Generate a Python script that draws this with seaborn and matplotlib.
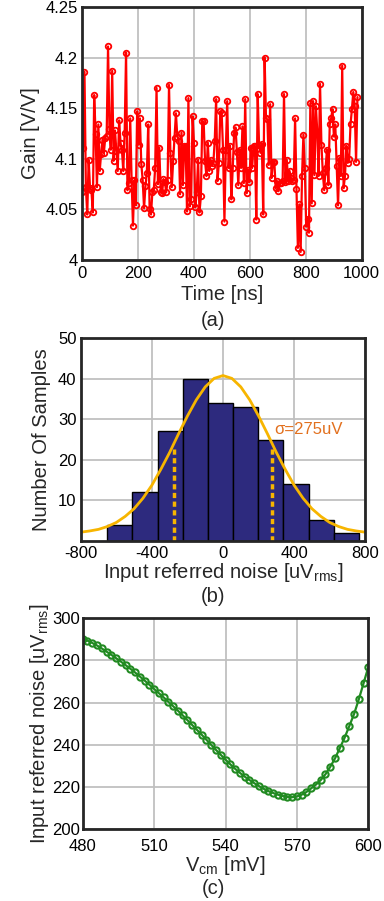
import numpy as np
import pandas as pd
import seaborn as sns
from matplotlib import pyplot as plt

# (a) gain vs time
gain = [4.067, 4.111, 4.186, 4.072, 4.045, 4.099, 4.071, 4.069, 4.047, 4.163,
        4.125, 4.072, 4.134, 4.088, 4.105, 4.119, 4.106, 4.121, 4.123, 4.211,
        4.129, 4.109, 4.187, 4.098, 4.128, 4.108, 4.088, 4.138, 4.116, 4.109,
        4.088, 4.126, 4.205, 4.069, 4.076, 4.140, 4.079, 4.034, 4.079, 4.054,
        4.147, 4.114, 4.140, 4.095, 4.079, 4.051, 4.073, 4.086, 4.134, 4.050,
        4.045, 4.067, 4.069, 4.091, 4.170, 4.075, 4.111, 4.067, 4.066, 4.080,
        4.077, 4.067, 4.079, 4.173, 4.106, 4.072, 4.098, 4.121, 4.145, 4.122,
        4.118, 4.065, 4.126, 4.074, 4.113, 4.113, 4.048, 4.160, 4.053, 4.060,
        4.142, 4.116, 4.052, 4.067, 4.099, 4.047, 4.063, 4.137, 4.137, 4.098,
        4.083, 4.116, 4.088, 4.099, 4.093, 4.096, 4.118, 4.159, 4.078, 4.096,
        4.147, 4.145, 4.109, 4.038, 4.109, 4.157, 4.091, 4.113, 4.060, 4.091,
        4.126, 4.131, 4.107, 4.074, 4.109, 4.091, 4.132, 4.076, 4.159, 4.066,
        4.089, 4.077, 4.111, 4.091, 4.113, 4.113, 4.040, 4.164, 4.114, 4.106,
        4.115, 4.045, 4.200, 4.140, 4.139, 4.094, 4.154, 4.081, 4.097, 4.097,
        4.071, 4.078, 4.068, 4.076, 4.076, 4.078, 4.164, 4.077, 4.099, 4.078,
        4.088, 4.081, 4.078, 4.079, 4.140, 4.070, 4.012, 4.055, 4.008, 4.083,
        4.124, 4.091, 4.033, 4.041, 4.027, 4.155, 4.056, 4.157, 4.084, 4.152,
        4.127, 4.083, 4.174, 4.114, 4.086, 4.069, 4.091, 4.109, 4.074, 4.134,
        4.140, 4.149, 4.122, 4.134, 4.093, 4.054, 4.101, 4.083, 4.192, 4.071,
        4.083, 4.113, 4.096, 4.100, 4.134, 4.149, 4.166, 4.152, 4.097, 4.161]
time_ns = np.linspace(0, 985, len(gain))

# (b) histogram of input referred noise
bin_edges = [-655, -512, -368, -227, -84, 58, 199, 340, 484, 625, 767]
bin_counts = [4, 12, 27, 40, 34, 33, 25, 14, 5, 2]
fit_x = list(range(-800, 801, 50))
fit_y = [2.1, 2.4, 2.8, 3.5, 4.5, 6.0, 7.9, 10.5, 13.7, 17.6, 21.8, 26.4, 30.8,
         34.8, 38.0, 40.1, 40.8, 40.1, 38.0, 34.8, 30.8, 26.4, 21.8, 17.6, 13.7,
         10.5, 7.9, 6.0, 4.5, 3.5, 2.8, 2.4, 2.1]
sigma_x = [-275, 275]
sigma_top = 23

# (c) noise vs common mode voltage
vcm = list(range(480, 601, 2))
noise = [290.2, 289.4, 288.3, 287.1, 285.7, 284.2, 282.7, 281.1, 279.5, 277.8,
         276.1, 274.3, 272.4, 270.5, 268.5, 266.5, 264.5, 262.5, 260.4, 258.3,
         256.2, 254.0, 251.7, 249.4, 247.1, 244.8, 242.4, 240.0, 237.6, 235.3,
         233.0, 230.8, 228.7, 226.8, 225.0, 223.4, 221.9, 220.5, 219.2, 218.1,
         217.2, 216.4, 215.8, 215.3, 215.2, 215.6, 216.4, 217.7, 219.4, 221.2,
         223.3, 226.1, 229.6, 233.6, 238.4, 243.3, 248.9, 254.6, 261.6, 269.2,
         276.9]

sns.set_style("whitegrid")
plt.rcParams['font.family'] = ['Liberation Sans', 'DejaVu Sans']
plt.rcParams['mathtext.fontset'] = 'custom'
plt.rcParams['mathtext.rm'] = 'Liberation Sans'
plt.rcParams['mathtext.it'] = 'Liberation Sans'
plt.rcParams['axes.unicode_minus'] = False

tick_fs = 12
lab_fs = 14.5

fig = plt.figure(figsize=(3.84, 9.01), dpi=100)
ax1 = fig.add_axes([0.2128, 0.7114, 0.729, 0.2808])
ax2 = fig.add_axes([0.2102, 0.3999, 0.7411, 0.2246])
ax3 = fig.add_axes([0.2154, 0.0796, 0.7438, 0.2342])


def style(ax):
    ax.grid(True, color='#c0c0c0', linewidth=1.3)
    ax.set_axisbelow(True)
    for s in ax.spines.values():
        s.set_visible(True)
        s.set_color('#262626')
        s.set_linewidth(2)
    ax.tick_params(labelsize=tick_fs, length=3, direction='in', colors='#262626')
    ax.tick_params(axis='x', pad=4)
    ax.tick_params(axis='y', pad=3)
    ax.tick_params(labelcolor='black')


# (a)
sns.lineplot(x=time_ns, y=gain, ax=ax1, color='#ff0000', linewidth=1.6,
             marker='o', markersize=4, markerfacecolor='none',
             markeredgecolor='#ff0000', markeredgewidth=1.3, sort=False)
ax1.set_xlim(0, 1000)
ax1.set_ylim(4, 4.25)
ax1.set_xticks([0, 200, 400, 600, 800, 1000])
ax1.set_yticks([4, 4.05, 4.1, 4.15, 4.2, 4.25])
ax1.set_yticklabels(['4', '4.05', '4.1', '4.15', '4.2', '4.25'])
ax1.set_xlabel('Time [ns]', fontsize=lab_fs, labelpad=3)
ax1.set_ylabel('Gain [V/V]', fontsize=lab_fs, labelpad=4)
style(ax1)

# (b)
centers = [(bin_edges[i] + bin_edges[i + 1]) / 2 for i in range(len(bin_counts))]
sns.histplot(x=centers, weights=bin_counts, bins=bin_edges, ax=ax2,
             color='#2d2a7e', edgecolor='black', linewidth=1, alpha=1)
sns.lineplot(x=fit_x, y=fit_y, ax=ax2, color='#f7b500', linewidth=2)
for sx in sigma_x:
    ax2.plot([sx, sx], [0, sigma_top], color='#f7b500', linewidth=2.5,
             linestyle=(0, (1.5, 1)))
ax2.text(290, 27.4, 'σ=275uV', color='#e2701e', fontsize=12, va='center', ha='left')
ax2.set_xlim(-800, 800)
ax2.set_ylim(0, 50)
ax2.set_xticks([-800, -400, 0, 400, 800])
ax2.set_yticks([10, 20, 30, 40, 50])
ax2.set_xlabel('Input referred noise [uV$_{\\mathrm{rms}}$]', fontsize=lab_fs, labelpad=0)
ax2.set_ylabel('Number Of Samples', fontsize=lab_fs, labelpad=5)
style(ax2)

# (c)
sns.lineplot(x=vcm, y=noise, ax=ax3, color='#218a21', linewidth=1.6,
             marker='o', markersize=4.5, markerfacecolor='none',
             markeredgecolor='#218a21', markeredgewidth=1.5)
ax3.set_xlim(480, 600)
ax3.set_ylim(200, 300)
ax3.set_xticks([480, 510, 540, 570, 600])
ax3.set_yticks([200, 220, 240, 260, 280, 300])
ax3.set_xlabel('V$_{\\mathrm{cm}}$ [mV]', fontsize=lab_fs, labelpad=0)
ax3.set_ylabel('Input referred noise [uV$_{\\mathrm{rms}}$]', fontsize=lab_fs, labelpad=1)
style(ax3)
ax3.tick_params(axis='x', pad=7)
ax3.tick_params(axis='y', pad=2)

fig.text(0.5546, 1 - 321 / 901, '(a)', fontsize=lab_fs, ha='center', va='center')
fig.text(0.5546, 1 - 597 / 901, '(b)', fontsize=lab_fs, ha='center', va='center')
fig.text(0.5546, 1 - 889 / 901, '(c)', fontsize=lab_fs, ha='center', va='center')

plt.savefig('out.png', dpi=100)
